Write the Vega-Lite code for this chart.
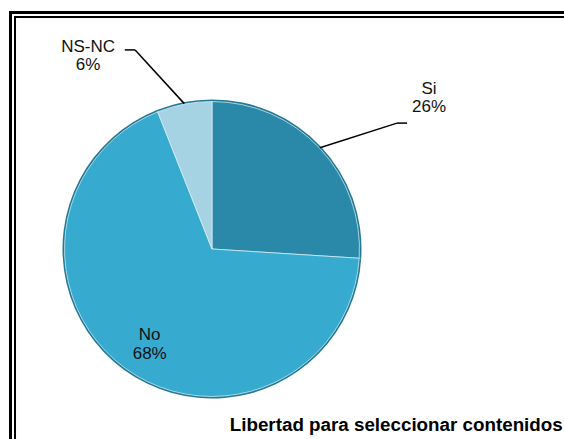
{
  "$schema": "https://vega.github.io/schema/vega-lite/v6.json",
  "width": 296,
  "height": 296,
  "autosize": {"type": "none"},
  "padding": {"left": 64, "top": 101, "right": 204, "bottom": 42},
  "background": "white",
  "config": {"view": {"stroke": null}},
  "data": {
    "values": [
      {"categoria": "Si", "valor": 26},
      {"categoria": "No", "valor": 68},
      {"categoria": "NS-NC", "valor": 6}
    ]
  },
  "layer": [
    {
      "data": {"values": [{"marco": "exterior"}]},
      "mark": {"type": "rect", "filled": false, "stroke": "black", "strokeWidth": 3},
      "encoding": {
        "x": {"datum": -1.3615, "type": "quantitative", "scale": {"domain": [-1, 1]}, "axis": null},
        "x2": {"datum": 3},
        "y": {"datum": 1.598, "type": "quantitative", "scale": {"domain": [-1, 1]}, "axis": null},
        "y2": {"datum": -3}
      }
    },
    {
      "data": {"values": [{"marco": "interior"}]},
      "mark": {"type": "rect", "filled": false, "stroke": "black", "strokeWidth": 2},
      "encoding": {
        "x": {"datum": -1.331, "type": "quantitative", "scale": {"domain": [-1, 1]}, "axis": null},
        "x2": {"datum": 3},
        "y": {"datum": 1.5676, "type": "quantitative", "scale": {"domain": [-1, 1]}, "axis": null},
        "y2": {"datum": -3}
      }
    },
    {
      "mark": {"type": "arc", "outerRadius": 149.5, "fill": "#227a96"},
      "encoding": {
        "theta": {"field": "valor", "type": "quantitative", "stack": true},
        "detail": {"field": "categoria"},
        "order": {"field": "categoria", "sort": "descending"}
      }
    },
    {
      "mark": {"type": "arc", "outerRadius": 147.5, "stroke": "#e3f3f8", "strokeWidth": 1, "strokeOpacity": 0.7},
      "encoding": {
        "theta": {"field": "valor", "type": "quantitative", "stack": true},
        "color": {
          "field": "categoria",
          "type": "nominal",
          "scale": {"domain": ["Si", "No", "NS-NC"], "range": ["#2a89a8", "#37aad0", "#a6d3e3"]},
          "legend": null
        },
        "order": {"field": "categoria", "sort": "descending"}
      }
    },
    {
      "transform": [
        {"calculate": "datum.categoria == 'No' ? datum.categoria + '\\n' + datum.valor + '%' : ''", "as": "etiqueta"}
      ],
      "mark": {"type": "text", "radius": 106, "align": "center", "baseline": "middle", "lineBreak": "\n", "lineHeight": 19, "font": "Liberation Sans, Arial, sans-serif", "fontSize": 17, "fill": "#111111"},
      "encoding": {
        "theta": {"field": "valor", "type": "quantitative", "stack": true},
        "detail": {"field": "categoria"},
        "order": {"field": "categoria", "sort": "descending"},
        "text": {"field": "etiqueta"}
      }
    },
    {
      "transform": [
        {"joinaggregate": [{"op": "sum", "field": "valor", "as": "total"}]},
        {"window": [{"op": "sum", "field": "valor", "as": "acum"}], "sort": [{"field": "categoria", "order": "descending"}], "frame": [null, 0]},
        {"calculate": "2*PI*(datum.acum - datum.valor/2)/datum.total", "as": "medio"},
        {"filter": "datum.categoria != 'No'"},
        {"calculate": "datum.categoria == 'Si' ? datum.medio + 0.1564 : datum.medio - 0.180", "as": "a1"},
        {"calculate": "datum.categoria == 'Si' ? 1.512 : 1.442", "as": "r1"},
        {"calculate": "sin(datum.medio)", "as": "x0"},
        {"calculate": "cos(datum.medio)", "as": "y0"},
        {"calculate": "datum.r1*sin(datum.a1)", "as": "x1"},
        {"calculate": "datum.r1*cos(datum.a1)", "as": "y1"}
      ],
      "mark": {"type": "rule", "stroke": "black", "strokeWidth": 1.5},
      "encoding": {
        "x": {"field": "x0", "type": "quantitative", "scale": {"domain": [-1, 1]}, "axis": null},
        "y": {"field": "y0", "type": "quantitative", "scale": {"domain": [-1, 1]}, "axis": null},
        "x2": {"field": "x1"},
        "y2": {"field": "y1"}
      }
    },
    {
      "transform": [
        {"joinaggregate": [{"op": "sum", "field": "valor", "as": "total"}]},
        {"window": [{"op": "sum", "field": "valor", "as": "acum"}], "sort": [{"field": "categoria", "order": "descending"}], "frame": [null, 0]},
        {"calculate": "2*PI*(datum.acum - datum.valor/2)/datum.total", "as": "medio"},
        {"filter": "datum.categoria != 'No'"},
        {"calculate": "datum.categoria == 'Si' ? datum.medio + 0.1564 : datum.medio - 0.180", "as": "a1"},
        {"calculate": "datum.categoria == 'Si' ? 1.512 : 1.442", "as": "r1"},
        {"calculate": "datum.r1*sin(datum.a1)", "as": "x1"},
        {"calculate": "datum.r1*cos(datum.a1)", "as": "y1"},
        {"calculate": "datum.x1 + (datum.categoria == 'Si' ? 0.068 : -0.07)", "as": "x2"}
      ],
      "mark": {"type": "rule", "stroke": "black", "strokeWidth": 1.5},
      "encoding": {
        "x": {"field": "x1", "type": "quantitative", "scale": {"domain": [-1, 1]}, "axis": null},
        "y": {"field": "y1", "type": "quantitative", "scale": {"domain": [-1, 1]}, "axis": null},
        "x2": {"field": "x2"}
      }
    },
    {
      "transform": [
        {"joinaggregate": [{"op": "sum", "field": "valor", "as": "total"}]},
        {"window": [{"op": "sum", "field": "valor", "as": "acum"}], "sort": [{"field": "categoria", "order": "descending"}], "frame": [null, 0]},
        {"calculate": "2*PI*(datum.acum - datum.valor/2)/datum.total", "as": "medio"},
        {"filter": "datum.categoria != 'No'"},
        {"calculate": "datum.categoria == 'Si' ? datum.medio + 0.1188 : datum.medio - 0.362", "as": "aL"},
        {"calculate": "datum.categoria == 'Si' ? 1.8216 : 1.60", "as": "rL"},
        {"calculate": "datum.rL*sin(datum.aL)", "as": "xL"},
        {"calculate": "datum.rL*cos(datum.aL)", "as": "yL"},
        {"calculate": "datum.categoria + '\\n' + datum.valor + '%'", "as": "etiqueta"}
      ],
      "mark": {"type": "text", "align": "center", "baseline": "middle", "lineBreak": "\n", "lineHeight": 18, "font": "Liberation Sans, Arial, sans-serif", "fontSize": 17, "fill": "#111111"},
      "encoding": {
        "x": {"field": "xL", "type": "quantitative", "scale": {"domain": [-1, 1]}, "axis": null},
        "y": {"field": "yL", "type": "quantitative", "scale": {"domain": [-1, 1]}, "axis": null},
        "text": {"field": "etiqueta"}
      }
    },
    {
      "data": {"values": [{"titulo": "Libertad para seleccionar contenidos"}]},
      "mark": {"type": "text", "align": "left", "baseline": "alphabetic", "font": "Liberation Sans, Arial, sans-serif", "fontSize": 18.8, "fontWeight": "bold", "fill": "black"},
      "encoding": {
        "x": {"datum": 0.12, "type": "quantitative", "scale": {"domain": [-1, 1]}, "axis": null},
        "y": {"datum": -1.23, "type": "quantitative", "scale": {"domain": [-1, 1]}, "axis": null},
        "text": {"field": "titulo"}
      }
    }
  ]
}
